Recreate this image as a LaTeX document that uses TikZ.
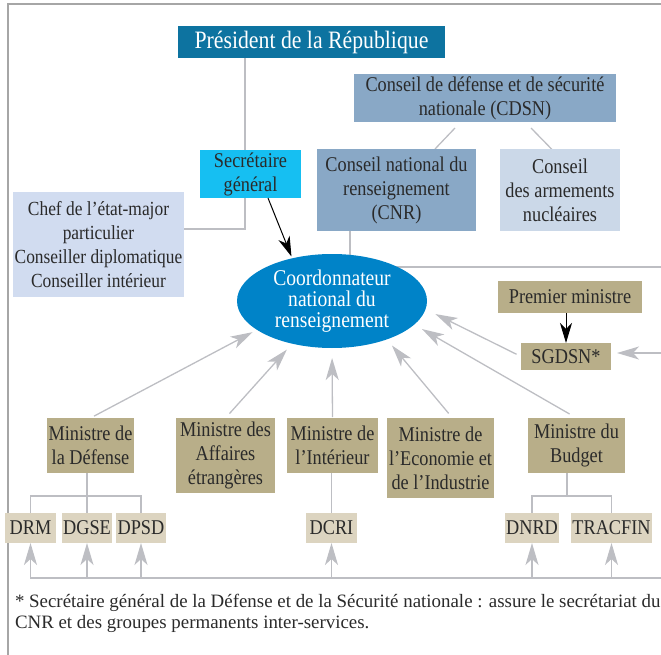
\documentclass[tikz,border=0pt]{standalone}
\usepackage{fontspec}
\setmainfont{Liberation Serif}[FakeStretch=0.87]
\newfontfamily\notefont{Liberation Serif}
\usepackage{xcolor}
\definecolor{presblue}{HTML}{0D73A0}
\definecolor{sgcyan}{HTML}{16BFF2}
\definecolor{cnrblue}{HTML}{89A8C6}
\definecolor{armblue}{HTML}{CBD8E8}
\definecolor{chefblue}{HTML}{D1DCF0}
\definecolor{ellblue}{HTML}{0083C8}
\definecolor{khaki}{HTML}{B8AE89}
\definecolor{sand}{HTML}{DCD4C0}
\definecolor{lgray}{HTML}{BDBEC3}
\definecolor{framegray}{HTML}{A6A6A6}
\definecolor{ink}{HTML}{2A2A2A}
\usepackage{tikz}
\usetikzlibrary{positioning}
\usetikzlibrary{arrows.meta,shapes}
\usetikzlibrary{calc}
\usetikzlibrary{backgrounds}
\newcommand\fsz[2]{\fontsize{#1}{#2}\selectfont}

\begin{document}
\begin{tikzpicture}[x=1pt,y=-1pt,every node/.style={inner sep=1,outer sep=0,align=center,text=ink,font=\fsz{21}{24}},
    mbox/.style={fill=khaki,anchor=north},
    sbox/.style={fill=sand,minimum height=30},
    gline/.style={color=lgray,line width=1.3pt},
    garrow/.style={color=lgray,line width=1.3pt,-{Stealth[length=22pt,width=13pt,inset=6pt]}},
    barrow/.style={color=black,line width=1pt,-{Stealth[length=20pt,width=12pt,inset=6pt]}}]
	\useasboundingbox (0,0) rectangle (661,655);
	% top
	\node (p) [fill=presblue,text=white,font=\fsz{25}{28},minimum width=267,minimum height=32] at (311.5,42) {Président de la République};
	\node (cdsn) [fill=cnrblue,minimum width=262,minimum height=48] at (485,98) {Conseil de défense et de sécurité\\nationale (CDSN)};
	\node (sg) [fill=sgcyan,minimum width=101,minimum height=48] at (250.5,174) {Secrétaire\\général};
	\node (cnr) [fill=cnrblue,minimum width=159,minimum height=82] at (396.5,190) {Conseil national du\\renseignement\\(CNR)};
	\node (arm) [right=24pt of cnr,fill=armblue,minimum width=120,minimum height=81] {Conseil\\des armements\\nucléaires};
	\node (chef) [fill=chefblue,font=\fsz{20}{24},minimum width=171,minimum height=105] at (98.5,244.5) {Chef de l’état-major\\particulier\\Conseiller diplomatique\\Conseiller intérieur};
	\node (c) [ellipse,fill=ellblue,text=white,font=\fsz{22.5}{21},inner sep=0,minimum width=190,minimum height=94] at (332,301) {Coordonnateur\\national du\\renseignement};
	\node (pm) [fill=khaki,minimum width=144,minimum height=32] at (570,297) {Premier ministre};
	\node (sgdsn) [below=30pt of pm,xshift=-4pt,fill=khaki,minimum width=90,minimum height=27] {SGDSN*};
	% ministres
	\node (def) [mbox,minimum width=87,minimum height=55] at (90.5,418) {Ministre de\\la Défense};
	\node (aff) [mbox,minimum width=99,minimum height=75] at (225.5,418) {Ministre des\\Affaires\\étrangères};
	\node (int) [mbox,minimum width=91,minimum height=55] at (332.5,418) {Ministre de\\l’Intérieur};
	\node (eco) [mbox,minimum width=107,minimum height=80] at (440.5,418) {Ministre de\\l’Economie et\\de l’Industrie};
	\node (bud) [mbox,minimum width=97,minimum height=55] at (576.5,418) {Ministre du\\Budget};
	% services
	\node (drm) [sbox,minimum width=51] at (30.5,528) {DRM};
	\node (dgse) [sbox,right=6pt of drm,minimum width=50] {DGSE};
	\node (dpsd) [sbox,right=4pt of dgse,minimum width=50] {DPSD};
	\node (dcri) [sbox,minimum width=51] at (331.5,528) {DCRI};
	\node (dnrd) [sbox,minimum width=54] at (532,528) {DNRD};
	\node (tracfin) [sbox,right=12pt of dnrd,minimum width=81] {TRACFIN};
	% note
	\node (n1) [anchor=base west,font=\notefont\fsz{18.9}{21}] at (14,607) {* Secrétaire général de la Défense et de la Sécurité nationale : assure le secrétariat du};
	\node (n2) [anchor=base west,font=\notefont\fsz{18.9}{21}] at (14,628) {CNR et des groupes permanents inter-services.};
	\coordinate (e1) at (661,267);
	\coordinate (e2) at (661,353);
	\coordinate (b0) at (30,578);
	\coordinate (b1) at (661,578);
	\begin{scope}[on background layer]
	\draw[color=framegray,line width=1.2pt] (661,4) -- (8,4) -- (8,655);
	\draw[gline] ([xshift=-66.5pt]p.south) |- ([yshift=15.5pt]chef.east);
	\draw[gline] ([xshift=-30pt,yshift=-6pt]cdsn.south) -- ([xshift=38.5pt]cnr.north);
	\draw[gline] ([xshift=46pt,yshift=-6pt]cdsn.south) -- ([xshift=-8pt]arm.north);
	\draw[gline] ([xshift=-46.5pt]cnr.south) |- (e1);
	\draw[gline] (dgse.north) -- (dgse.north |- def.south);
	\draw[gline] (drm.north) -- ++(0,-17) -| (dpsd.north);
	\draw[gline] (dcri.north) -- (dcri.north |- int.south);
	\draw[gline] ([xshift=-9.5pt]bud.south) -- ++(0,23);
	\draw[gline] (dnrd.north) -- ++(0,-17) -| (tracfin.north);
	\draw[gline] (b0) -- (b1);
	\end{scope}
    \path[barrow]
        ([xshift=17.5pt]sg.south) edge[shorten >=2pt] (c.133)
        (pm.south -| sgdsn) edge (sgdsn);
    \path[garrow]
        (def.north) edge[shorten <=4pt,shorten >=5pt] (c.201)
        (aff.north) edge[shorten <=6pt,shorten >=8pt] (c.227)
        (int.north) edge[shorten <=1pt,shorten >=10pt] (c.270)
        ([xshift=12pt]eco.north) edge[shorten <=6pt,shorten >=8pt] (c.325)
        (bud.north) edge[shorten <=8pt,shorten >=9pt] (c.344)
        (sgdsn.west) edge[shorten <=5pt,shorten >=11pt] (c.355)
        (e2) edge[shorten >=6pt] (sgdsn.east |- e2)
        (drm |- b0) edge (drm)
        (dgse |- b0) edge (dgse)
        (dpsd |- b0) edge (dpsd)
        (dcri |- b0) edge (dcri)
        (dnrd |- b0) edge (dnrd)
        (tracfin |- b0) edge (tracfin);
\end{tikzpicture}
\end{document}
